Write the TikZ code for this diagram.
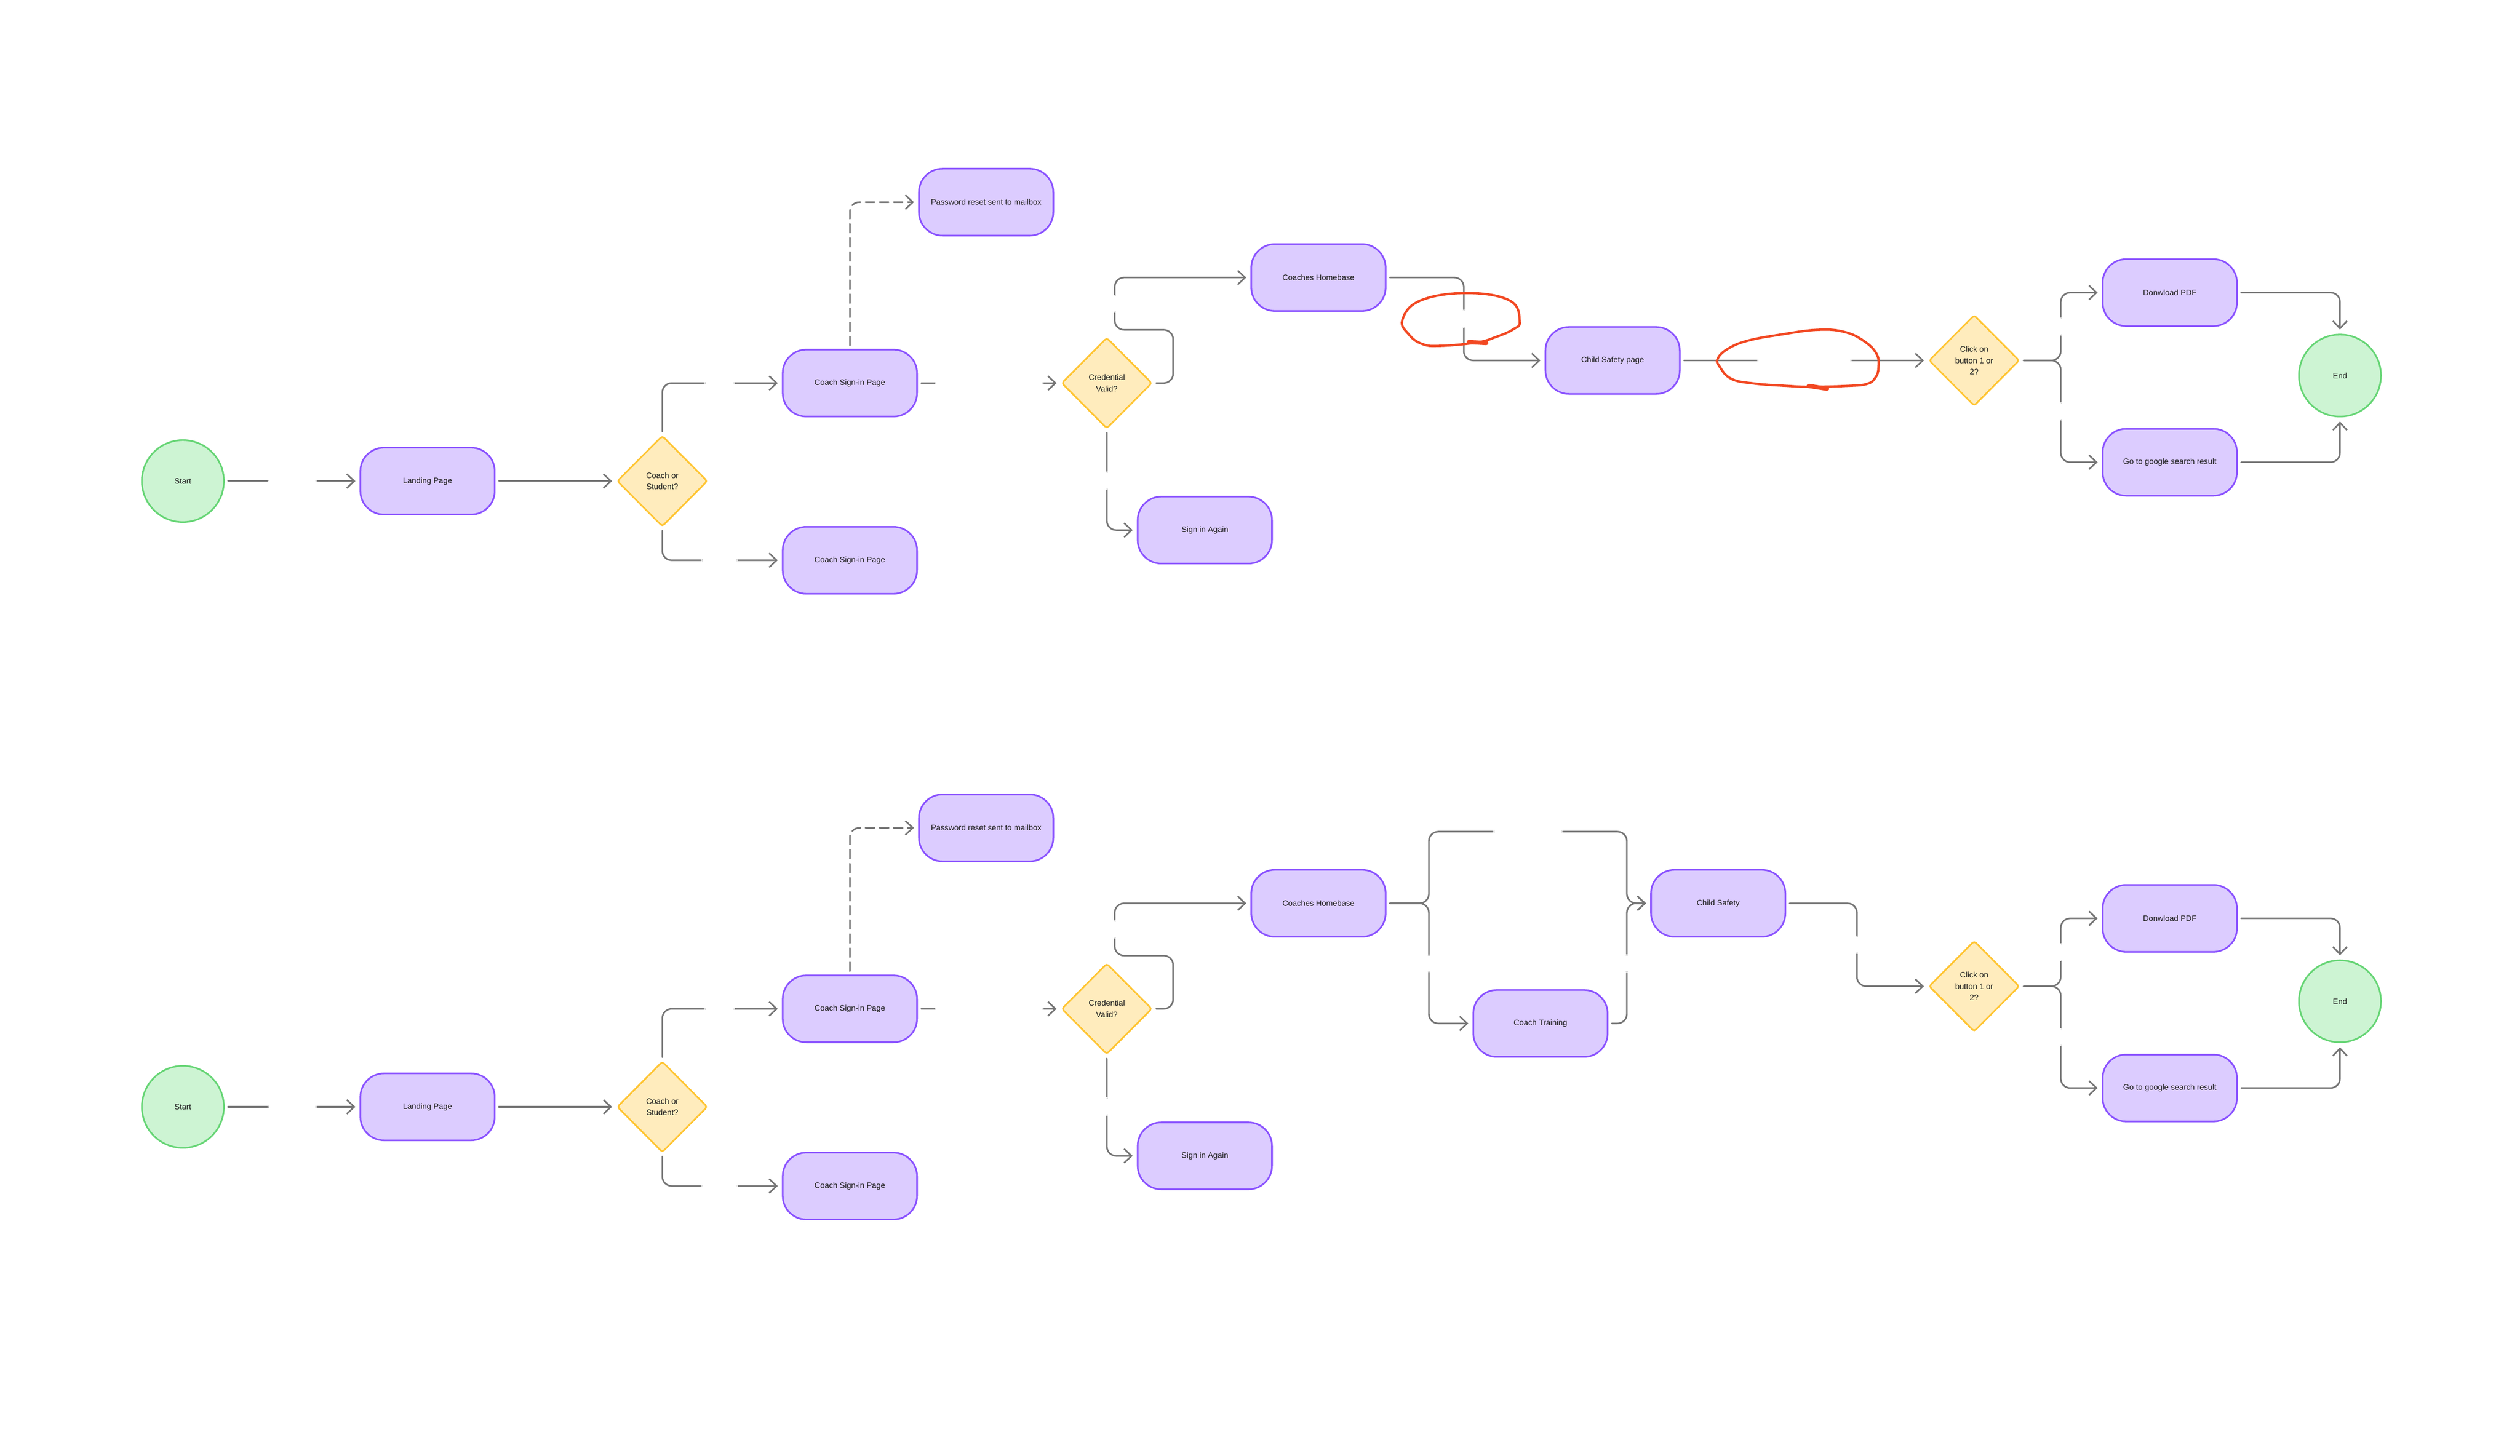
\documentclass[tikz,border=0pt]{standalone}
\usepackage{fontspec}
\setmainfont{Liberation Sans}
\usepackage{tikz}
\usetikzlibrary{shapes.geometric}
\usetikzlibrary{arrows.meta}

\definecolor{boxfill}{HTML}{DCCCFF}
\definecolor{boxline}{HTML}{8A52FF}
\definecolor{decfill}{HTML}{FFECBD}
\definecolor{decline}{HTML}{FFC533}
\definecolor{termfill}{HTML}{CDF4D3}
\definecolor{termline}{HTML}{66D575}
\definecolor{connline}{HTML}{757575}
\definecolor{scrib}{HTML}{F24822}
\definecolor{txt}{HTML}{1E1E1E}

\newcommand{\flowfont}{\fontsize{4.8}{6.9}\selectfont}

\tikzset{
	pagebox/.style={draw=boxline, fill=boxfill, line width=1pt, rounded corners=0.5cm,
		minimum width=2.85cm, minimum height=1.42cm, inner sep=0pt, font=\flowfont, text=txt},
	decision/.style={diamond, draw=decline, fill=decfill, line width=1pt, rounded corners=1.5pt,
		minimum width=1.92cm, minimum height=1.93cm, inner sep=0pt, align=center, font=\flowfont, text=txt},
	terminal/.style={circle, draw=termline, fill=termfill, line width=1pt,
		minimum size=1.74cm, inner sep=0pt, font=\flowfont, text=txt},
	conn/.style={draw=connline, line width=0.95pt, rounded corners=0.2cm, line cap=round,
		-{Straight Barb[length=4.5pt,width=8.5pt]}, shorten >=2.5pt, shorten <=2pt},
	hgap/.style={fill=white, inner sep=0pt, minimum height=7pt, minimum width=#1},
	vgap/.style={fill=white, inner sep=0pt, minimum width=7pt, minimum height=#1},
	scribble/.style={draw=scrib, line width=1.4pt, line cap=round, line join=round},
}

\begin{document}
\begin{tikzpicture}
	\fill[white] (0,0) rectangle (53.46,-30.89);
	\useasboundingbox (0,0) rectangle (53.46,-30.89);

	% first flow
	\begin{scope}
	\node[terminal] at (3.88,-10.21) (starta) {Start};
	\node[pagebox] at (9.07,-10.21) (landinga) {Landing Page};
	\node[decision] at (14.05,-10.21) (csa) {Coach or\\Student?};
	\node[pagebox] at (18.03,-8.13) (signa) {Coach Sign-in Page};
	\node[pagebox] at (18.03,-11.89) (signlowa) {Coach Sign-in Page};
	\node[pagebox] at (20.92,-4.29) (reseta) {Password reset sent to mailbox};
	\node[decision] at (23.48,-8.13) (creda) {Credential\\Valid?};
	\node[pagebox] at (27.97,-5.89) (homea) {Coaches Homebase};
	\node[pagebox] at (25.56,-11.25) (againa) {Sign in Again};
	\node[pagebox] at (34.21,-7.65) (childa) {Child Safety page};
	\node[decision] at (41.88,-7.65) (clicka) {Click on\\button 1 or\\2?};
	\node[pagebox] at (46.03,-6.21) (pdfa) {Donwload PDF};
	\node[pagebox] at (46.03,-9.81) (googlea) {Go to google search result};
	\node[terminal] at (49.64,-7.97) (enda) {End};

	\draw[conn] (starta) -- node[hgap=1.04cm]{} (landinga);
	\draw[conn] (landinga) -- (csa);
	\draw[conn] (csa.north) |- node[hgap=0.64cm, pos=0.74]{} (signa.west);
	\draw[conn] (csa.south) |- node[hgap=0.77cm, pos=0.74]{} (signlowa.west);
	\draw[conn, dash pattern=on 5.5pt off 3pt] (signa.north) |- (reseta.west);
	\draw[conn] (signa) -- node[hgap=2.3cm]{} (creda);
	\draw[conn] (creda.east) -- ++(0.43,0) -- ++(0,1.13) -- ++(-1.24,0) |- node[vgap=0.38cm, pos=0.25]{} (homea.west);
	\draw[conn] (creda.south) |- node[vgap=0.39cm, pos=0.255]{} (againa.west);
	\draw[conn] (homea.east) -- ++(1.64,0) |- node[vgap=0.39cm, pos=0.25]{} (childa.west);
	\draw[conn] (childa) -- node[hgap=2cm]{} (clicka);
	\draw[conn] (clicka.east) -- ++(0.86,0) |- node[vgap=0.38cm, pos=0.25]{} (pdfa.west);
	\draw[conn] (clicka.east) -- ++(0.86,0) |- node[vgap=0.38cm, pos=0.25]{} (googlea.west);
	\draw[conn] (pdfa.east) -| (enda.north);
	\draw[conn] (googlea.east) -| (enda.south);

	% red marks
	\draw[scribble] plot[smooth cycle, tension=0.7] coordinates {(29.75,-6.79) (30.13,-6.38) (31.11,-6.22) (32.03,-6.38) (32.24,-6.82) (32.10,-6.99) (31.74,-7.15) (31.32,-7.27) (30.55,-7.34) (30.17,-7.30) (29.89,-7.10)};
	\draw[scribble, line width=2.6pt] (31.16,-7.26) -- (31.53,-7.28);
	\draw[scribble] plot[smooth cycle, tension=0.7] coordinates {(36.44,-7.61) (36.66,-7.40) (37.08,-7.23) (37.78,-7.10) (38.55,-7.00) (39.11,-7.04) (39.53,-7.23) (39.81,-7.51) (39.85,-7.81) (39.78,-8.02) (39.60,-8.15) (39.18,-8.19) (38.41,-8.21) (37.92,-8.19) (37.22,-8.14) (36.73,-8.04) (36.48,-7.78)};
	\draw[scribble, line width=2.6pt] (38.37,-8.19) -- (38.76,-8.25);
	\end{scope}

	% second flow
	\begin{scope}[yshift=-13.28cm]
	\node[terminal] at (3.88,-10.21) (startb) {Start};
	\node[pagebox] at (9.07,-10.21) (landingb) {Landing Page};
	\node[decision] at (14.05,-10.21) (csb) {Coach or\\Student?};
	\node[pagebox] at (18.03,-8.13) (signb) {Coach Sign-in Page};
	\node[pagebox] at (18.03,-11.89) (signlowb) {Coach Sign-in Page};
	\node[pagebox] at (20.92,-4.29) (resetb) {Password reset sent to mailbox};
	\node[decision] at (23.48,-8.13) (credb) {Credential\\Valid?};
	\node[pagebox] at (27.97,-5.89) (homeb) {Coaches Homebase};
	\node[pagebox] at (25.56,-11.25) (againb) {Sign in Again};
	\node[pagebox] at (32.68,-8.44) (trainb) {Coach Training};
	\node[pagebox] at (36.45,-5.89) (childb) {Child Safety};
	\node[decision] at (41.88,-7.65) (clickb) {Click on\\button 1 or\\2?};
	\node[pagebox] at (46.03,-6.21) (pdfb) {Donwload PDF};
	\node[pagebox] at (46.03,-9.81) (googleb) {Go to google search result};
	\node[terminal] at (49.64,-7.97) (endb) {End};

	\draw[conn] (startb) -- node[hgap=1.04cm]{} (landingb);
	\draw[conn] (landingb) -- (csb);
	\draw[conn] (csb.north) |- node[hgap=0.64cm, pos=0.74]{} (signb.west);
	\draw[conn] (csb.south) |- node[hgap=0.77cm, pos=0.74]{} (signlowb.west);
	\draw[conn, dash pattern=on 5.5pt off 3pt] (signb.north) |- (resetb.west);
	\draw[conn] (signb) -- node[hgap=2.3cm]{} (credb);
	\draw[conn] (credb.east) -- ++(0.43,0) -- ++(0,1.13) -- ++(-1.24,0) |- node[vgap=0.38cm, pos=0.25]{} (homeb.west);
	\draw[conn] (credb.south) |- node[vgap=0.39cm, pos=0.255]{} (againb.west);
	\draw[conn] (homeb.east) -- ++(0.9,0) -- ++(0,1.52) -- node[hgap=1.46cm]{} ++(4.2,0) |- (childb.west);
	\draw[conn] (homeb.east) -- ++(0.9,0) |- node[vgap=0.37cm, pos=0.25]{} (trainb.west);
	\draw[conn] (trainb.east) -- ++(0.39,0) |- node[vgap=0.38cm, pos=0.25]{} (childb.west);
	\draw[conn] (childb.east) -- ++(1.5,0) |- node[vgap=0.38cm, pos=0.25]{} (clickb.west);
	\draw[conn] (clickb.east) -- ++(0.86,0) |- node[vgap=0.38cm, pos=0.25]{} (pdfb.west);
	\draw[conn] (clickb.east) -- ++(0.86,0) |- node[vgap=0.38cm, pos=0.25]{} (googleb.west);
	\draw[conn] (pdfb.east) -| (endb.north);
	\draw[conn] (googleb.east) -| (endb.south);
	\end{scope}
\end{tikzpicture}
\end{document}
